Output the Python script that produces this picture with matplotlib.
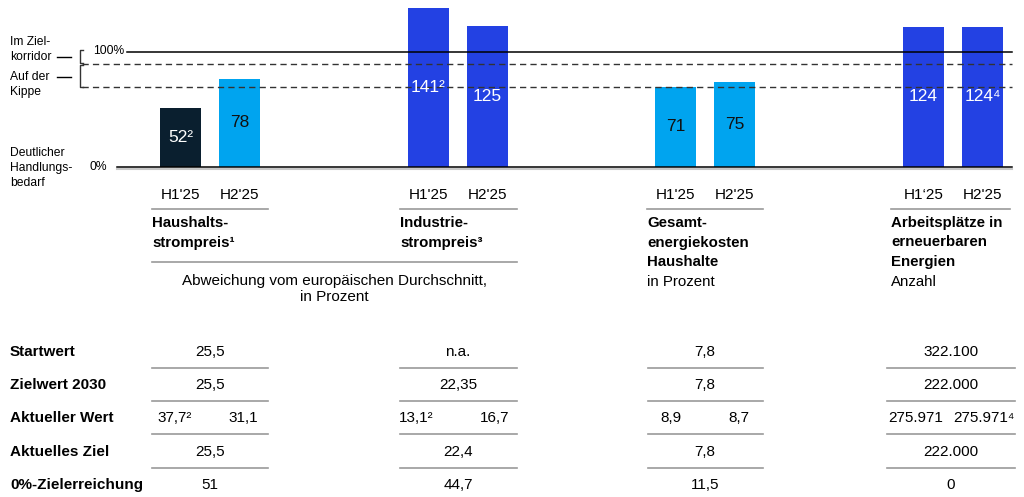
import numpy as np
import matplotlib.pyplot as plt

plt.rcParams['font.family'] = ['Liberation Sans', 'DejaVu Sans']

# Daten
h1_werte = [52, 141, 71, 124]
h2_werte = [78, 125, 75, 124]
h1_fussnote = ["²", "²", "", ""]
h2_fussnote = ["", "", "", "⁴"]
h1_label = ["H1'25", "H1'25", "H1'25", "H1‘25"]
h2_label = ["H2'25", "H2'25", "H2'25", "H2'25"]
titel = [["Haushalts-", "strompreis¹"],
         ["Industrie-", "strompreis³"],
         ["Gesamt-", "energiekosten", "Haushalte"],
         ["Arbeitsplätze in", "erneuerbaren", "Energien"]]
einheit = ["", "", "in Prozent", "Anzahl"]

zeilen = ["Startwert", "Zielwert 2030", "Aktueller Wert", "Aktuelles Ziel", "0%-Zielerreichung"]
startwert = ["25,5", "n.a.", "7,8", "322.100"]
zielwert_2030 = ["25,5", "22,35", "7,8", "222.000"]
aktuell_h1 = ["37,7²", "13,1²", "8,9", "275.971"]
aktuell_h2 = ["31,1", "16,7", "8,7", "275.971⁴"]
aktuelles_ziel = ["25,5", "22,4", "7,8", "222.000"]
zielerreichung = ["51", "44,7", "11,5", "0"]

NAVY = "#0a1f2f"
HELLBLAU = "#00a4ef"
BLAU = "#2341e3"
GRAU = "#9a9a9a"


def farbe(v):
    # Ampel: Handlungsbedarf / auf der Kippe / im Zielkorridor
    if v < 70:
        return NAVY
    if v < 90:
        return HELLBLAU
    return BLAU


W, H = 1024, 497
fig = plt.figure(figsize=(W / 100, H / 100), dpi=100)

# Overlay-Achse in Pixelkoordinaten für Texte und Linien
ov = fig.add_axes([0, 0, 1, 1])
ov.set_xlim(0, W)
ov.set_ylim(H, 0)
ov.axis("off")

# Balken-Achse: 0% bei y=167 px
y0 = 167
px_pro_prozent = 1.13
ax = fig.add_axes([0, (H - y0) / H, 1, y0 / H])
ax.set_xlim(0, W)
ax.set_ylim(0, y0 / px_pro_prozent)
ax.axis("off")


def py(pixel):
    # Pixelhöhe -> Wert auf der Balkenachse
    return (y0 - pixel) / px_pro_prozent


gruppen_mitte = [210, 458, 705, 953]
abstand = 29.5
breite = 41
x1 = np.array(gruppen_mitte) - abstand
x2 = np.array(gruppen_mitte) + abstand

for xs, werte, fn in [(x1, h1_werte, h1_fussnote), (x2, h2_werte, h2_fussnote)]:
    farben = [farbe(v) for v in werte]
    ax.bar(xs, werte, width=breite, color=farben, zorder=2, clip_on=False)
    for x, v, f, c in zip(xs, werte, fn, farben):
        tc = "#111111" if c == HELLBLAU else "white"
        ax.text(x, v / 2, f"{v}{f}", ha="center", va="center", fontsize=12.5,
                color=tc, zorder=4)

# Referenzlinien
ax.plot([127, 1012], [py(51.7)] * 2, color="black", lw=1.1, zorder=3)
for y in (63.5, 87):
    ax.plot([82, 1012], [py(y)] * 2, color="#333333", lw=1.0, dashes=(4.5, 3), zorder=3)
ov.plot([117, 1012], [168.6, 168.6], color="#c8c8c8", lw=1.5)
ax.plot([117, 1012], [0, 0], color="black", lw=1.1, zorder=3, clip_on=False)

# Klammern links
for ya, yb in [(50, 63), (65, 87)]:
    ov.plot([83, 80, 80, 83], [ya, ya, yb, yb], color="#333333", lw=1.0)
ov.plot([57, 71], [57, 57], color="black", lw=1.0)
ov.plot([57, 71], [77, 77], color="black", lw=1.0)

fs_links = 8.7
for txt, y in [("Im Ziel-", 42), ("korridor", 57), ("Auf der", 77), ("Kippe", 92),
               ("Deutlicher", 153), ("Handlungs-", 168), ("bedarf", 183)]:
    ov.text(10, y, txt, fontsize=fs_links, va="center", ha="left")
ov.text(93, 51, "100%", fontsize=fs_links, va="center", ha="left")
ov.text(90, 167, "0%", fontsize=fs_links, va="center", ha="left")

# Achsenbeschriftung und Kategorien
fs = 11
spalten = [(152, 268), (400, 517), (647, 763), (891, 1010)]
for i in range(4):
    ov.text(x1[i], 195, h1_label[i], fontsize=fs, ha="center", va="center")
    ov.text(x2[i], 195, h2_label[i], fontsize=fs, ha="center", va="center")
    a, b = spalten[i]
    ov.plot([a, b], [209, 209], color=GRAU, lw=1.2)
    zeilen_txt = titel[i]
    for k, t in enumerate(zeilen_txt):
        ov.text(a, 223 + 19.5 * k, t, fontsize=fs - 0.2, fontweight="bold", va="center")
    if einheit[i]:
        ov.text(a, 223 + 19.5 * len(zeilen_txt), einheit[i], fontsize=fs - 0.2, va="center")

ov.plot([152, 517], [262, 262], color=GRAU, lw=1.2)
ov.text(334, 281, "Abweichung vom europäischen Durchschnitt,", fontsize=fs,
        ha="center", va="center")
ov.text(334, 297, "in Prozent", fontsize=fs, ha="center", va="center")

# Tabelle
zeilen_y = [352, 385, 418, 452, 485]
tab_mitte = [210, 458, 705, 951]
split_links = [175, 416, 671, 916]
split_rechts = [243, 495, 739, 984]
tab_spalten = [(152, 268), (400, 517), (648, 763), (887, 1015)]
werte_zeilen = [startwert, zielwert_2030, None, aktuelles_ziel, zielerreichung]
for r, (name, y) in enumerate(zip(zeilen, zeilen_y)):
    ov.text(10, y, name, fontsize=fs, fontweight="bold", va="center")
    for i in range(4):
        if werte_zeilen[r] is None:
            ov.text(split_links[i], y, aktuell_h1[i], fontsize=fs, ha="center", va="center")
            ov.text(split_rechts[i], y, aktuell_h2[i], fontsize=fs, ha="center", va="center")
        else:
            ov.text(tab_mitte[i], y, werte_zeilen[r][i], fontsize=fs, ha="center", va="center")
        if r < len(zeilen) - 1:
            a, b = tab_spalten[i]
            ov.plot([a, b], [y + 16, y + 16], color=GRAU, lw=1.2)

fig.savefig("out.png", dpi=100)
